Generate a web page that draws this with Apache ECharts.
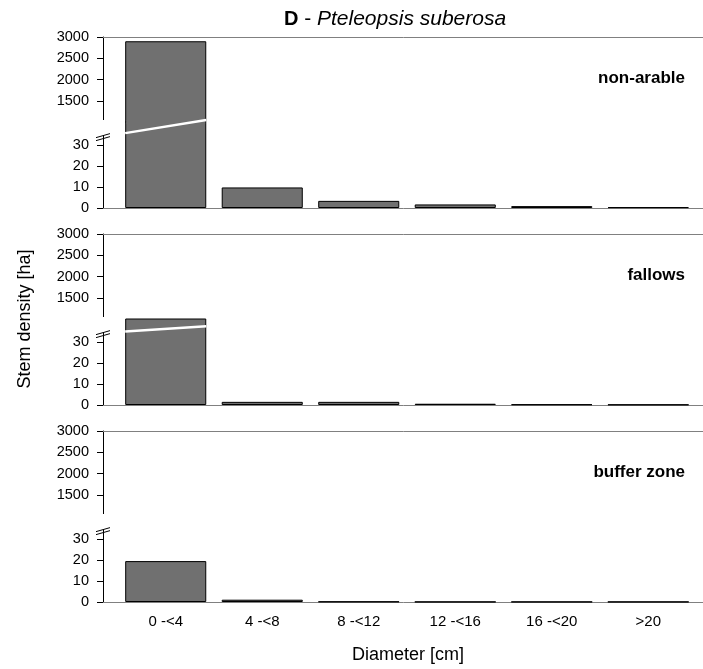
<!DOCTYPE html>
<html>
<head>
<meta charset="utf-8">
<script src="https://cdn.jsdelivr.net/npm/echarts@6/dist/echarts.min.js"></script>
<style>
html,body{margin:0;padding:0;background:#fff;}
#chart{width:703px;height:669px;}
</style>
</head>
<body>
<div id="chart"></div>
<script>
// ---- data ----
const categories = ['0 -<4', '4 -<8', '8 -<12', '12 -<16', '16 -<20', '>20'];
const nonArable  = [2900, 9.8, 3.4, 1.7, 0.9, 0.4];
const fallows    = [960, 1.5, 1.5, 0.6, 0.3, 0.2];
const bufferZone = [19.5, 1.1, 0.2, 0.1, 0.1, 0.1];
const panelNames = ['non-arable', 'fallows', 'buffer zone'];
const upperTicks = [1500, 2000, 2500, 3000];
const lowerTicks = [0, 10, 20, 30];
const titleMain = 'D';
const titleSpecies = 'Pteleopsis suberosa';
const yTitle = 'Stem density [ha]';
const xTitle = 'Diameter [cm]';

// ---- layout / style ----
const FONT = '"Liberation Sans", Arial, sans-serif';
const panels = [nonArable, fallows, bufferZone];
const panelTops = [37, 234, 431];
const UPPER_H = 85, LOWER_H = 86;
const GRID_LEFT = 103, GRID_W = 608;
const UPPER_MIN = 1000, UPPER_MAX = 3000;
const LOWER_MAX = 41;
const X_MIN = -0.65, X_MAX = 5.65;
const BAR_RATIO = 0.84;
const BAR_COLOR = '#707070';
// break decoration (in lower-axis units): axis gap start, slanted white line ends on first bar
const breakCfg = [
  {gapFrom: 34.5, slashL: 35.7, slashR: 42},
  {gapFrom: 34.5, slashL: 35.0, slashR: 37.6},
  {gapFrom: 34.5, slashL: null, slashR: null}
];

const chart = echarts.init(document.getElementById('chart'), null, {renderer: 'canvas'});

const grids = [], xAxes = [], yAxes = [], series = [];
const titles = [{
  text: '{b|' + titleMain + '} - {i|' + titleSpecies + '}',
  left: 395, top: 9, textAlign: 'center', padding: 0,
  textStyle: {
    fontFamily: FONT, fontSize: 21, fontWeight: 'normal', color: '#000',
    rich: {
      b: {fontFamily: FONT, fontSize: 20, fontWeight: 'bold', color: '#000'},
      i: {fontFamily: FONT, fontSize: 21, fontStyle: 'italic', color: '#000'}
    }
  }
}];

const plain = v => String(v);

panels.forEach((vals, k) => {
  const top = panelTops[k];
  const gU = 2 * k, gL = 2 * k + 1;
  grids.push({left: GRID_LEFT, width: GRID_W, top: top, height: UPPER_H, containLabel: false, outerBoundsMode: 'none'});
  grids.push({left: GRID_LEFT, width: GRID_W, top: top + UPPER_H, height: LOWER_H, containLabel: false, outerBoundsMode: 'none'});

  // x axes
  xAxes.push({
    type: 'value', gridIndex: gU, min: X_MIN, max: X_MAX, position: 'top',
    axisLine: {show: true, onZero: false, lineStyle: {color: '#808080', width: 1}},
    axisTick: {show: false}, axisLabel: {show: false}, splitLine: {show: false}
  });
  xAxes.push({
    type: 'value', gridIndex: gL, min: X_MIN, max: X_MAX, position: 'bottom',
    axisLine: {show: true, onZero: false, lineStyle: {color: '#808080', width: 1}},
    axisTick: {show: false},
    axisLabel: {
      show: k === 2, customValues: categories.map((c, i) => i),
      formatter: v => categories[Math.round(v)] || '',
      fontFamily: FONT, fontSize: 15, color: '#000', margin: 12
    },
    splitLine: {show: false}
  });

  // y axes
  yAxes.push({
    type: 'value', gridIndex: gU, min: UPPER_MIN, max: UPPER_MAX,
    axisLine: {show: true, onZero: false, lineStyle: {color: '#000', width: 1}},
    axisTick: {show: true, inside: false, length: 6, customValues: upperTicks, lineStyle: {color: '#000'}},
    axisLabel: {customValues: upperTicks, formatter: plain, fontFamily: FONT, fontSize: 14.5, color: '#000', margin: 14},
    splitLine: {show: false}
  });
  yAxes.push({
    type: 'value', gridIndex: gL, min: 0, max: LOWER_MAX,
    axisLine: {show: true, onZero: false, lineStyle: {color: '#000', width: 1}},
    axisTick: {show: true, inside: false, length: 6, customValues: lowerTicks, lineStyle: {color: '#000'}},
    axisLabel: {customValues: lowerTicks, formatter: plain, fontFamily: FONT, fontSize: 14.5, color: '#000', margin: 14},
    splitLine: {show: false}
  });

  const data = vals.map((v, i) => [i, v]);
  const barStyle = {color: BAR_COLOR, borderColor: '#000', borderWidth: 1};
  [gU, gL].forEach(g => {
    series.push({
      type: 'bar', xAxisIndex: g, yAxisIndex: g, data: data,
      barWidth: (BAR_RATIO * 100) + '%', clip: true,
      itemStyle: barStyle, silent: true, animation: false
    });
  });

  titles.push({
    text: panelNames[k], right: 18, top: top + 33, padding: 0,
    textStyle: {fontFamily: FONT, fontSize: 17, fontWeight: 'bold', color: '#000'}
  });
});

chart.setOption({
  animation: false,
  backgroundColor: '#fff',
  title: titles,
  grid: grids,
  xAxis: xAxes,
  yAxis: yAxes,
  series: series
});

// ---- decorations derived from the axes' own scales ----
const graphics = [];
panels.forEach((vals, k) => {
  const gU = 2 * k, gL = 2 * k + 1;
  const p0 = chart.convertToPixel({gridIndex: gL}, [0, 0]);
  const p1 = chart.convertToPixel({gridIndex: gL}, [1, 0]);
  const axisX = chart.convertToPixel({gridIndex: gL}, [X_MIN, 0])[0];
  const junction = chart.convertToPixel({gridIndex: gU}, [0, UPPER_MIN])[1];
  const hw = BAR_RATIO * (p1[0] - p0[0]) / 2;
  const cfg = breakCfg[k];
  const gapY = chart.convertToPixel({gridIndex: gL}, [0, cfg.gapFrom])[1];

  // gap in the y-axis line
  graphics.push({type: 'rect', z: 100, silent: true,
    shape: {x: axisX - 3, y: junction - 2, width: 6, height: gapY - junction + 2},
    style: {fill: '#fff'}});
  // break marks
  [0, 3].forEach(d => {
    graphics.push({type: 'line', z: 101, silent: true,
      shape: {x1: axisX - 7, y1: gapY + d + 2, x2: axisX + 7, y2: gapY + d - 2},
      style: {stroke: '#000', lineWidth: 1}});
  });

  // join the two pieces of a broken bar (hide the clip edges)
  if (vals[0] > UPPER_MIN) {
    graphics.push({type: 'rect', z: 100, silent: true,
      shape: {x: p0[0] - hw + 1, y: junction - 1.5, width: 2 * hw - 2, height: 3},
      style: {fill: BAR_COLOR}});
  }
  // white slanted break line through the first bar
  if (cfg.slashL !== null) {
    const yl = chart.convertToPixel({gridIndex: gL}, [0, cfg.slashL])[1];
    const yr = chart.convertToPixel({gridIndex: gL}, [0, cfg.slashR])[1];
    graphics.push({type: 'line', z: 102, silent: true,
      shape: {x1: p0[0] - hw, y1: yl, x2: p0[0] + hw, y2: yr},
      style: {stroke: '#fff', lineWidth: 2.5}});
  }
});

graphics.push({type: 'text', z: 100, silent: true, x: 25, y: 319, rotation: Math.PI / 2,
  style: {text: yTitle, fontFamily: FONT, fontSize: 18, fill: '#000', textAlign: 'center', textVerticalAlign: 'middle'}});
graphics.push({type: 'text', z: 100, silent: true, x: 408, y: 655,
  style: {text: xTitle, fontFamily: FONT, fontSize: 18, fill: '#000', textAlign: 'center', textVerticalAlign: 'middle'}});

chart.setOption({graphic: graphics});
</script>
</body>
</html>
